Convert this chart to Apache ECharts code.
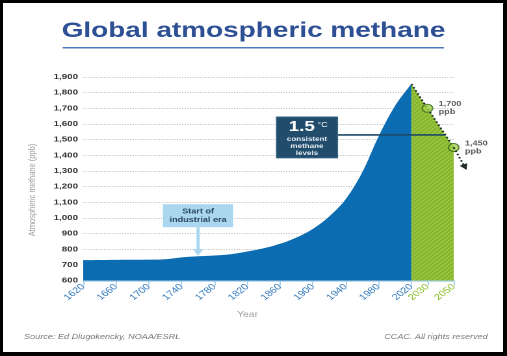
<!DOCTYPE html>
<html><head><meta charset="utf-8">
<script src="https://cdn.jsdelivr.net/npm/echarts@6/dist/echarts.min.js"></script>
<style>
html,body{margin:0;padding:0;width:507px;height:356px;background:#000;overflow:hidden}
#frame{position:absolute;left:3px;top:3px;width:500px;height:349px;background:#fff}
#chart{position:absolute;left:0;top:0;width:390px;height:356px;transform:scaleX(1.3);transform-origin:0 0}
</style></head><body><div id="frame"></div><div id="chart"></div>
<script>
// ---- data ----
const histYears  = [1620,1660,1700,1720,1740,1760,1780,1800,1820,1840,1860,1880,1900,1920,1940,1960,1980,2000,2020];
const histValues = [ 730, 732, 733, 736, 748, 755, 760, 768, 785, 806, 835, 875, 930,1010,1120,1290,1520,1715,1855];
const projYears  = [2020,2030,2050];
const projValues = [1855,1700,1450];
const markerYears  = [2030,2050];
const markerValues = [1700,1450];
const markerLabels = ['1,700','1,450'];
const trendYears  = [2050,2059];
const trendValues = [1450,1318];
const tickYears = [1620,1660,1700,1740,1780,1820,1860,1900,1940,1980,2020,2030,2050];
const yMin = 600, yMax = 1900, yStep = 100;
const targetLevel = 1530;      // 1.5 °C consistent methane level
const industrialYear = 1760;

// piecewise year scale of the original figure
function pos(year){
  if (year <= 2020) return (year - 1620) / 40;
  if (year <= 2030) return 10 + (year - 2020) * 0.049;
  return 10.49 + (year - 2030) * 0.04;
}
function yearOf(p){
  let best = tickYears[0], d = 1e9;
  tickYears.forEach(y => { const dd = Math.abs(pos(y) - p); if (dd < d) { d = dd; best = y; } });
  return best;
}

// hatch pattern
const hatch = document.createElement('canvas');
hatch.width = 4; hatch.height = 4;
const hc = hatch.getContext('2d');
hc.fillStyle = '#98c63e'; hc.fillRect(0,0,4,4);
hc.strokeStyle = '#72a122'; hc.lineWidth = 1;
hc.beginPath();
hc.moveTo(-1,5); hc.lineTo(5,-1);
hc.moveTo(-1,1); hc.lineTo(1,-1);
hc.moveTo(3,5); hc.lineTo(5,3);
hc.stroke();

const chart = echarts.init(document.getElementById('chart'), null, {renderer:'canvas', devicePixelRatio:2});
const FONT = '"Liberation Sans", Arial, Helvetica, sans-serif';
const tickPos = tickYears.map(pos);

chart.setOption({
  animation:false,
  textStyle:{fontFamily:FONT},
  title:{
    text:'Global atmospheric methane', left:'center', top:15,
    textStyle:{fontFamily:FONT, fontSize:21.5, fontWeight:'bold', color:'#2d4f93'}
  },
  grid:{left:64, right:41, top:77, bottom:75.5},
  xAxis:{
    type:'value', min:0, max:pos(2050),
    axisLine:{lineStyle:{color:'#a9cfe9', width:1.5}},
    axisTick:{show:true, customValues:tickPos, length:5, lineStyle:{color:'#a9cfe9', width:1}},
    axisLabel:{
      customValues:tickPos, rotate:45, margin:5,
      formatter:v => { const y = yearOf(v); return (y > 2020 ? '{g|' : '{b|') + y + '}'; },
      rich:{
        b:{color:'#2e78bc', fontSize:8.5, fontFamily:FONT},
        g:{color:'#8cbf2b', fontSize:8.5, fontFamily:FONT}
      }
    },
    splitLine:{show:false}
  },
  yAxis:{
    type:'value', min:yMin, max:yMax, interval:yStep,
    axisLine:{show:false}, axisTick:{show:false},
    axisLabel:{fontSize:7.5, fontWeight:'bold', color:'#333', margin:4, fontFamily:FONT,
      formatter:v => v.toLocaleString('en-US')},
    splitLine:{lineStyle:{type:'dotted', color:'#c9c9c9', width:1}}
  },
  series:[
    {
      type:'line', name:'history',
      data:histYears.map((y,i)=>[pos(y), histValues[i]]),
      smooth:0.35, symbol:'none',
      lineStyle:{width:0},
      areaStyle:{color:'#0b6cb2', opacity:1, origin:'start'},
      z:2
    },
    {
      type:'line', name:'projection', clip:false,
      data:projYears.map((y,i)=>[pos(y), projValues[i]]),
      symbol:'none',
      lineStyle:{type:[1.5,2], color:'#1f2a26', width:1.6},
      areaStyle:{color:{image:hatch, repeat:'repeat'}, opacity:1, origin:'start'},
      z:3
    },
    {
      type:'scatter', name:'markers', clip:false,
      data:markerYears.map((y,i)=>[pos(y), markerValues[i]]),
      symbolSize:8,
      itemStyle:{color:'#a2cf4a', borderColor:'#3e6e1e', borderWidth:1.2},
      label:{show:true, position:'right', distance:4,
        formatter:p => '{a|' + markerLabels[p.dataIndex] + '}\n{a|ppb}',
        rich:{a:{fontSize:7, fontWeight:'bold', color:'#333', lineHeight:8, fontFamily:FONT}}},
      z:5
    }
  ]
});

// annotations anchored to data coordinates
const px = (y,v) => chart.convertToPixel({gridIndex:0}, [pos(y), v]);
let crossYear = projYears[projYears.length-1];
for (let i=0;i<projYears.length-1;i++){
  const a=projValues[i], b=projValues[i+1];
  if ((a-targetLevel)*(b-targetLevel) <= 0){
    crossYear = projYears[i] + (a-targetLevel)/(a-b)*(projYears[i+1]-projYears[i]);
  }
}
const lineStart = px(1930, targetLevel);
const lineEnd = px(crossYear, targetLevel);
const boxW = 47, boxH = 41;
const boxX = lineStart[0] - boxW, boxY = lineStart[1] - 18;

const indVal = histValues[histYears.indexOf(industrialYear)];
const tip = px(industrialYear, indVal);
const ibW = 54, ibH = 23;
const ibX = tip[0] - ibW/2, ibY = tip[1] - 52;

// trend extension beyond the axis and its arrow head
const tA = px(trendYears[0], trendValues[0]);
const tB = px(trendYears[1], trendValues[1]);
const ang = Math.atan2(tB[1]-tA[1], tB[0]-tA[0]);
const ah = 6, aw = 3.2;
const cx = Math.cos(ang), cy = Math.sin(ang), nx = -cy, ny = cx;
const headTip = [tB[0] + 2*cx, tB[1] + 2*cy];
const back = [headTip[0] - ah*cx, headTip[1] - ah*cy];
const lineStop = [headTip[0] - 4*cx, headTip[1] - 4*cy];

chart.setOption({
  graphic:[
    {type:'line', shape:{x1:48.2, y1:47.7, x2:341.5, y2:47.7}, style:{stroke:'#4d7abb', lineWidth:1.5}},
    {type:'line', z:10, shape:{x1:tA[0], y1:tA[1], x2:lineStop[0], y2:lineStop[1]}, style:{stroke:'#1f2a26', lineWidth:1.6, lineDash:[1.5,2]}},
    {type:'polygon', z:10, shape:{points:[headTip,[back[0]+aw*nx, back[1]+aw*ny],[back[0]-aw*nx, back[1]-aw*ny]]}, style:{fill:'#1f2a26'}},
    // 1.5 °C line and box
    {type:'line', z:10, shape:{x1:lineStart[0], y1:lineStart[1], x2:lineEnd[0], y2:lineEnd[1]}, style:{stroke:'#1f4a66', lineWidth:1.6}},
    {type:'rect', z:10, shape:{x:boxX, y:boxY, width:boxW, height:boxH}, style:{fill:'#214c6c', stroke:'#3d6785', lineWidth:0.8}},
    {type:'text', z:11, style:{text:'1.5', x:boxX+boxW/2-4, y:boxY+10, fill:'#fff', font:'bold 14.5px '+FONT, align:'center', verticalAlign:'middle'}},
    {type:'text', z:11, style:{text:'°C', x:boxX+boxW/2+12, y:boxY+8, fill:'#fff', font:'7px '+FONT, align:'center', verticalAlign:'middle'}},
    {type:'text', z:11, style:{text:'consistent\nmethane\nlevels', x:boxX+boxW/2, y:boxY+19, fill:'#e6eef4', font:'bold 6.2px '+FONT, align:'center', verticalAlign:'top', lineHeight:7}},
    // industrial era
    {type:'rect', z:10, shape:{x:ibX, y:ibY, width:ibW, height:ibH}, style:{fill:'#aad6ef'}},
    {type:'text', z:11, style:{text:'Start of\nindustrial era', x:tip[0], y:ibY+ibH/2, fill:'#2b4762', font:'bold 7px '+FONT, align:'center', verticalAlign:'middle', lineHeight:8.5}},
    {type:'rect', z:10, shape:{x:tip[0]-1.2, y:ibY+ibH, width:2.4, height:tip[1]-ibY-ibH-6}, style:{fill:'#aad6ef'}},
    {type:'polygon', z:10, shape:{points:[[tip[0]-4, tip[1]-7],[tip[0]+4, tip[1]-7],[tip[0], tip[1]-0.5]]}, style:{fill:'#aad6ef'}},
    // axis names
    {type:'text', x:25, y:190, rotation:Math.PI/2, style:{text:'Atmospheric methane (ppb)', x:0, y:0, fill:'#9a9a9a', font:'7.5px '+FONT, align:'center', verticalAlign:'middle'}},
    {type:'text', style:{text:'Year', x:190.4, y:315, fill:'#9a9a9a', font:'8px '+FONT, align:'center', verticalAlign:'middle'}},
    // footer
    {type:'text', style:{text:'Source: Ed Dlugokencky, NOAA/ESRL', x:18.5, y:337, fill:'#777', font:'italic 7px '+FONT, align:'left', verticalAlign:'middle'}},
    {type:'text', style:{text:'CCAC. All rights reserved', x:375.2, y:337, fill:'#777', font:'italic 7px '+FONT, align:'right', verticalAlign:'middle'}}
  ]
});
</script></body></html>
